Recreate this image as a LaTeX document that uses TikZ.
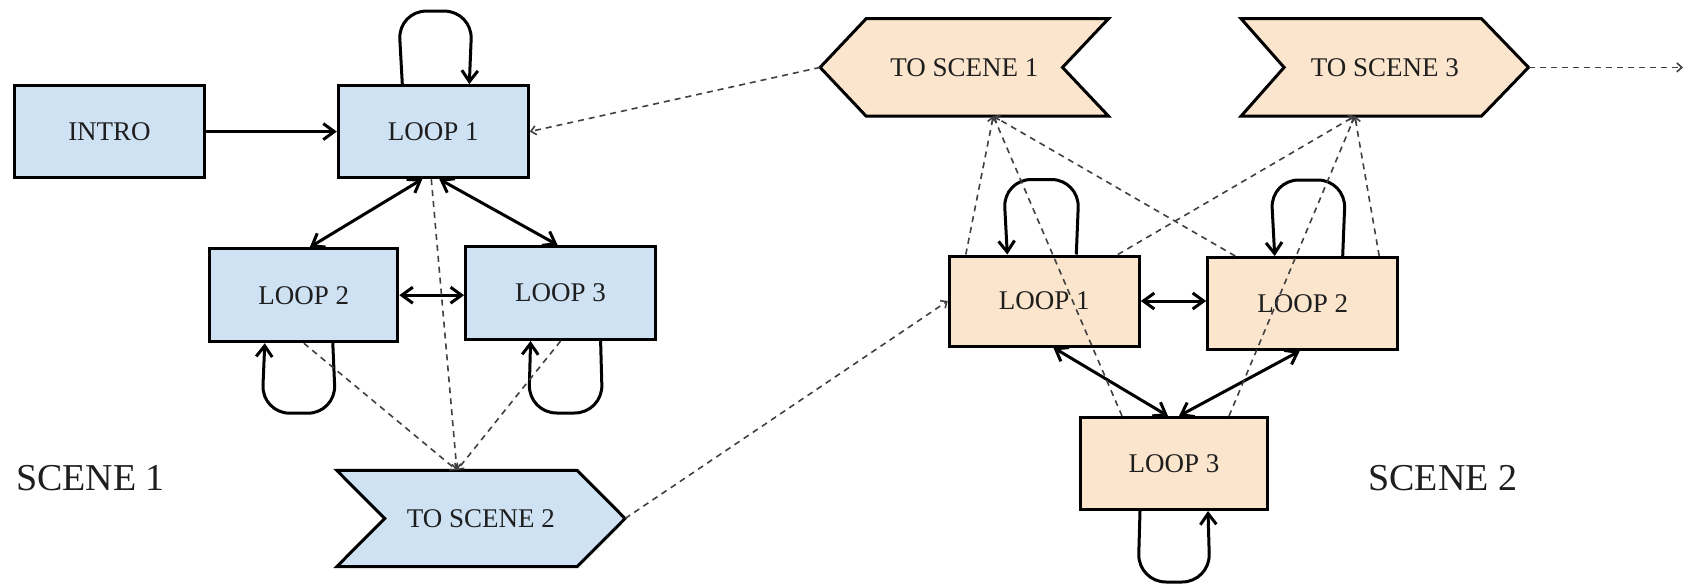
\documentclass[tikz,border=0pt]{standalone}
\usepackage{fontspec}
\setmainfont{Liberation Serif}
\usetikzlibrary{arrows.meta}
\pgfdeclarelayer{background}
\pgfsetlayers{background,main}
\definecolor{blueF}{HTML}{CFE2F3}
\definecolor{peachF}{HTML}{FCE5CD}
\definecolor{dashG}{HTML}{404040}
\definecolor{txt}{HTML}{1E1E1E}
\begin{document}
\begin{tikzpicture}[x=1pt,y=-1pt,
  box/.style={draw=black,line width=3pt,inner sep=0pt,font=\fontsize{27}{30}\selectfont,text=txt},
  bluebox/.style={box,fill=blueF},
  peachbox/.style={box,fill=peachF},
  chev/.style={inner sep=0pt,font=\fontsize{27}{30}\selectfont,text=txt},
  chevshape/.style={draw=black,line width=3pt,line join=miter},
  scenelabel/.style={inner sep=0pt,font=\fontsize{38}{42}\selectfont,text=txt},
  conn/.style={draw=black,line width=3pt},
  tipS/.tip={Straight Barb[length=11pt,width=16pt]},
  single/.style={conn,-tipS},
  double/.style={conn,tipS-tipS},
  loopline/.style={conn,-tipS,rounded corners=28pt},
  dashconn/.style={draw=dashG,line width=1.6pt,dash pattern=on 6pt off 5pt,-{Straight Barb[length=5pt,width=9pt]}}
]
\useasboundingbox (0,0) rectangle (1692,586);

% Scene 1 boxes
\node[bluebox,minimum width=190pt,minimum height=92pt] (intro) at (109.5,131.6) {INTRO};
\node[bluebox,minimum width=190pt,minimum height=92pt] (a1) at (433.3,131.6) {LOOP 1};
\node[bluebox,minimum width=188pt,minimum height=93pt] (a2) at (303.8,295.2) {LOOP 2};
\node[bluebox,minimum width=190pt,minimum height=93pt] (a3) at (560.6,293) {LOOP 3};

% Scene 2 boxes
\node[peachbox,minimum width=190pt,minimum height=90pt] (b1) at (1044.3,301) {LOOP 1};
\node[peachbox,minimum width=190pt,minimum height=92pt] (b2) at (1302.7,303.5) {LOOP 2};
\node[peachbox,minimum width=187pt,minimum height=92pt] (b3) at (1174,463.5) {LOOP 3};

% Chevrons
\node[chev,minimum width=288pt,minimum height=96pt] (ts2) at (480.9,518.5) {TO SCENE 2};
\node[chev,minimum width=288pt,minimum height=97pt] (ts1) at (964.3,67.4) {TO SCENE 1};
\node[chev,minimum width=287pt,minimum height=97pt] (ts3) at (1384.8,67.4) {TO SCENE 3};
\begin{pgfonlayer}{background}
\draw[chevshape,fill=blueF] (ts2.north west) -- ([xshift=-48pt]ts2.north east) -- (ts2.east)
  -- ([xshift=-48pt]ts2.south east) -- (ts2.south west) -- ([xshift=48pt]ts2.west) -- cycle;
\draw[chevshape,fill=peachF] ([xshift=46pt]ts1.north west) -- (ts1.north east) -- ([xshift=-46pt]ts1.east)
  -- (ts1.south east) -- ([xshift=46pt]ts1.south west) -- (ts1.west) -- cycle;
\draw[chevshape,fill=peachF] (ts3.north west) -- ([xshift=-47pt]ts3.north east) -- (ts3.east)
  -- ([xshift=-47pt]ts3.south east) -- (ts3.south west) -- ([xshift=43pt]ts3.west) -- cycle;
\end{pgfonlayer}

% Labels
\node[scenelabel] (s1) at (90.5,478) {SCENE 1};
\node[scenelabel] (s2) at (1442.8,478) {SCENE 2};

% Scene 1 solid connectors
\draw[single] (intro.east) -- (a1.west);
\draw[double] ([xshift=-11pt]a1.south) -- ([xshift=6pt]a2.north);
\draw[double] ([xshift=6pt]a1.south) -- ([xshift=-3pt]a3.north);
\draw[double] (a2.east) -- (a2.east -| a3.west);
\draw[loopline] ([xshift=-31pt]a1.north) -- ++(-4,-73) -- ++(74,0) -- ([xshift=36pt]a1.north);
\draw[loopline] ([xshift=29pt]a2.south) -- ++(3,70) -- ++(-74,0) -- ([xshift=-39pt]a2.south);
\draw[loopline] ([xshift=40pt]a3.south) -- ++(2,72) -- ++(-74,0) -- ([xshift=-30pt]a3.south);

% Scene 2 solid connectors
\draw[double] (b1.east) -- (b1.east -| b2.west);
\draw[double] ([xshift=9pt]b1.south) -- ([xshift=-6pt]b3.north);
\draw[double] ([xshift=-3pt]b2.south) -- ([xshift=5pt]b3.north);
\draw[loopline] ([xshift=32pt]b1.north) -- ++(3,-75) -- ++(-76,0) -- ([xshift=-37pt]b1.north);
\draw[loopline] ([xshift=40pt]b2.north) -- ++(3,-76) -- ++(-75,0) -- ([xshift=-28pt]b2.north);
\draw[loopline] ([xshift=-34pt]b3.south) -- ++(-2,71) -- ++(72,0) -- ([xshift=34pt]b3.south);

% Dashed connectors
\coordinate (t2) at ([xshift=-24pt]ts2.north);
\coordinate (t1) at ([xshift=29pt]ts1.south);
\coordinate (t3) at ([xshift=-30pt]ts3.south);
\coordinate (out) at (1683,67.4);
\draw[dashconn] (a2.south) -- (t2);
\draw[dashconn] ([xshift=-2pt]a1.south) -- (t2);
\draw[dashconn] (a3.south) -- (t2);
\draw[dashconn] (ts1.west) -- (a1.east);
\draw[dashconn] (ts2.east) -- (b1.west);
\draw[dashconn] (ts3.east) -- (out);
\draw[dashconn] ([xshift=18pt]b1.north west) -- (t1);
\draw[dashconn] ([xshift=-52pt]b3.north) -- (t1);
\draw[dashconn] ([xshift=29pt]b2.north west) -- (t1);
\draw[dashconn] ([xshift=-23pt]b1.north east) -- (t3);
\draw[dashconn] ([xshift=55pt]b3.north) -- (t3);
\draw[dashconn] ([xshift=-20pt]b2.north east) -- (t3);
\end{tikzpicture}
\end{document}
